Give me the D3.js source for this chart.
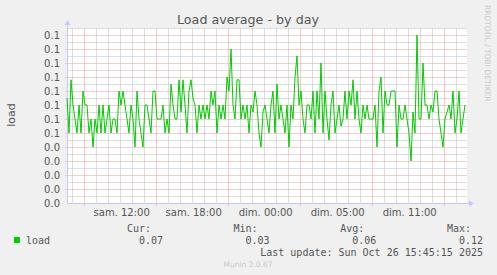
<!DOCTYPE html>
<html>
<head>
<meta charset="utf-8">
<script src="https://cdn.jsdelivr.net/npm/d3@7"></script>
<style>
  body { margin: 0; background: #f0f0f0; }
  svg { display: block; }
  text { font-family: 'DejaVu Sans', sans-serif; fill: #555; }
  .mono { font-family: 'DejaVu Sans Mono', monospace; font-size: 10px; }
</style>
</head>
<body>
<svg id="chart" width="497" height="275"></svg>
<script>
// load average, one value every 10 minutes
const load = [
  0.075, 0.05, 0.088, 0.07, 0.06, 0.05, 0.07, 0.05, 0.08, 0.07,
  0.07, 0.05, 0.06, 0.04, 0.06, 0.05, 0.07, 0.05, 0.07, 0.05,
  0.06, 0.07, 0.05, 0.06, 0.06, 0.05, 0.08, 0.07, 0.08, 0.07,
  0.06, 0.05, 0.07, 0.06, 0.04, 0.08, 0.06, 0.05, 0.04, 0.07,
  0.07, 0.06, 0.05, 0.08, 0.08, 0.06, 0.06, 0.06, 0.07, 0.05,
  0.06, 0.05, 0.085, 0.07, 0.06, 0.06, 0.088, 0.065, 0.088, 0.07,
  0.05, 0.08, 0.088, 0.075, 0.07, 0.05, 0.07, 0.06, 0.07, 0.06,
  0.07, 0.06, 0.08, 0.07, 0.08, 0.05, 0.07, 0.06, 0.07, 0.06,
  0.09, 0.08, 0.11, 0.07, 0.06, 0.088, 0.088, 0.06, 0.07, 0.06,
  0.07, 0.05, 0.07, 0.065, 0.08, 0.07, 0.05, 0.04, 0.065, 0.07,
  0.06, 0.05, 0.07, 0.08, 0.05, 0.085, 0.06, 0.07, 0.06, 0.05,
  0.07, 0.04, 0.07, 0.06, 0.09, 0.105, 0.07, 0.08, 0.06, 0.05,
  0.07, 0.07, 0.06, 0.08, 0.05, 0.08, 0.06, 0.10, 0.05, 0.08,
  0.06, 0.045, 0.07, 0.08, 0.05, 0.06, 0.07, 0.055, 0.06, 0.08,
  0.06, 0.08, 0.07, 0.088, 0.06, 0.08, 0.06, 0.05, 0.07, 0.06,
  0.07, 0.06, 0.06, 0.06, 0.07, 0.04, 0.08, 0.09, 0.05, 0.08,
  0.07, 0.07, 0.08, 0.08, 0.08, 0.04, 0.07, 0.06, 0.06, 0.07,
  0.06, 0.05, 0.03, 0.065, 0.05, 0.12, 0.06, 0.06, 0.10, 0.07,
  0.07, 0.06, 0.07, 0.065, 0.08, 0.08, 0.06, 0.05, 0.04, 0.06,
  0.065, 0.07, 0.06, 0.08, 0.05, 0.06, 0.08, 0.05, 0.06, 0.07,
];

const yTicks = d3.range(0, 13).map(i => i / 100);
const xLabels = ['sam. 12:00', 'sam. 18:00', 'dim. 00:00', 'dim. 05:00', 'dim. 11:00'];
const legendHeads = ['Cur:', 'Min:', 'Avg:', 'Max:'];
const legendValues = ['0.07', '0.03', '0.06', '0.12'];
const seriesName = 'load';
const lastUpdate = 'Last update: Sun Oct 26 15:45:15 2025';

const svg = d3.select('#chart');
const plotLeft = 67;
const plotTop = 28;
const plotWidth = 400;
const plotHeight = 175;
const hoursShown = plotWidth / 12;   // 12 px per hour
const firstHour = 5 / 12;            // first whole hour after the graph start
const green = '#00cc00';

const x = d3.scaleLinear()
  .domain([0, hoursShown])
  .range([plotLeft, plotLeft + plotWidth]);
const y = d3.scaleLinear()
  .domain([0, 0.125])
  .range([plotTop + plotHeight, plotTop]);

// plot background
svg.append('rect')
  .attr('x', plotLeft)
  .attr('y', plotTop)
  .attr('width', plotWidth)
  .attr('height', plotHeight)
  .attr('fill', '#fff');

const grid = svg.append('g').attr('transform', 'translate(0.5,0.5)');

const hours = d3.range(firstHour, hoursShown, 1);
const minorHours = hours.filter((h, i) => (i - 1) % 6 !== 0);
const majorHours = hours.filter((h, i) => (i - 1) % 6 === 0);

grid.selectAll('.vminor')
  .data(minorHours)
  .join('line')
  .attr('x1', d => Math.round(x(d)))
  .attr('x2', d => Math.round(x(d)))
  .attr('y1', plotTop)
  .attr('y2', plotTop + plotHeight + 1)
  .attr('stroke', '#bdbdbd')
  .attr('stroke-dasharray', '1,1');

grid.selectAll('.hminor')
  .data(yTicks.map(d => d + 0.005))
  .join('line')
  .attr('x1', plotLeft)
  .attr('x2', plotLeft + plotWidth)
  .attr('y1', d => Math.round(y(d)))
  .attr('y2', d => Math.round(y(d)))
  .attr('stroke', '#bdbdbd')
  .attr('stroke-dasharray', '1,1');

grid.selectAll('.vmajor')
  .data(majorHours)
  .join('line')
  .attr('x1', d => Math.round(x(d)))
  .attr('x2', d => Math.round(x(d)))
  .attr('y1', plotTop)
  .attr('y2', plotTop + plotHeight + 3)
  .attr('stroke', '#ec9a9a')
  .attr('stroke-dasharray', '1,1');

grid.selectAll('.hmajor')
  .data(yTicks.slice(1))
  .join('line')
  .attr('x1', plotLeft - 2)
  .attr('x2', plotLeft + plotWidth)
  .attr('y1', d => Math.round(y(d)))
  .attr('y2', d => Math.round(y(d)))
  .attr('stroke', '#ec9a9a')
  .attr('stroke-dasharray', '1,1');

// y tick labels
const yAxis = svg.append('g')
  .attr('transform', `translate(${plotLeft},0)`)
  .call(d3.axisLeft(y).tickValues(yTicks).tickFormat(d3.format('.1f')).tickSize(0).tickPadding(7));
yAxis.select('.domain').remove();
yAxis.selectAll('text')
  .attr('fill', '#555')
  .attr('font-size', 10)
  .attr('font-family', 'DejaVu Sans, sans-serif');

// x tick labels, centred between the major lines
const xAxis = svg.append('g')
  .attr('transform', `translate(0,${plotTop + plotHeight})`)
  .call(d3.axisBottom(x)
    .tickValues(majorHours.slice(0, xLabels.length).map(h => h + 3.1))
    .tickFormat((d, i) => xLabels[i])
    .tickSize(0)
    .tickPadding(6));
xAxis.select('.domain').remove();
xAxis.selectAll('text')
  .attr('fill', '#555')
  .attr('font-size', 10)
  .attr('font-family', 'DejaVu Sans, sans-serif');

// data line
const line = d3.line()
  .x((d, i) => x(i / 6))
  .y(d => y(d));

svg.append('path')
  .datum(load)
  .attr('d', line)
  .attr('fill', 'none')
  .attr('stroke', green)
  .attr('stroke-width', 1);

// axes with arrows
const axisColor = '#c4c8f4';
grid.append('line')
  .attr('x1', plotLeft).attr('x2', plotLeft)
  .attr('y1', plotTop + plotHeight).attr('y2', plotTop - 4)
  .attr('stroke', axisColor);
grid.append('line')
  .attr('x1', plotLeft).attr('x2', plotLeft + plotWidth + 4)
  .attr('y1', plotTop + plotHeight).attr('y2', plotTop + plotHeight)
  .attr('stroke', axisColor);
svg.append('path')
  .attr('d', `M${plotLeft - 2.5},${plotTop - 3}L${plotLeft + 3.5},${plotTop - 3}L${plotLeft + 0.5},${plotTop - 8}Z`)
  .attr('fill', axisColor);
svg.append('path')
  .attr('d', `M${plotLeft + plotWidth + 2},${plotTop + plotHeight - 2.5}L${plotLeft + plotWidth + 2},${plotTop + plotHeight + 3.5}L${plotLeft + plotWidth + 7},${plotTop + plotHeight + 0.5}Z`)
  .attr('fill', axisColor);

// title and side texts
svg.append('text')
  .attr('x', 248)
  .attr('y', 24)
  .attr('text-anchor', 'middle')
  .attr('font-size', 12.7)
  .text('Load average - by day');

svg.append('text')
  .attr('transform', 'translate(15,115) rotate(-90)')
  .attr('text-anchor', 'middle')
  .attr('font-size', 11)
  .text(seriesName);

svg.append('text')
  .attr('transform', 'translate(485,5) rotate(90)')
  .attr('font-size', 7.5)
  .style('fill', '#c8c8c8')
  .text('RRDTOOL / TOBI OETIKER');

// legend
svg.append('rect')
  .attr('x', 14)
  .attr('y', 237)
  .attr('width', 6)
  .attr('height', 6)
  .attr('fill', green);

svg.append('text')
  .attr('class', 'mono')
  .attr('x', 26)
  .attr('y', 244)
  .text(seriesName);

const colRight = d3.scaleLinear().domain([0, 3]).range([163, 483]);

svg.selectAll('.lhead')
  .data(legendHeads)
  .join('text')
  .attr('class', 'mono')
  .attr('x', (d, i) => colRight(i) - 12)
  .attr('y', 232)
  .attr('text-anchor', 'end')
  .text(d => d);

svg.selectAll('.lval')
  .data(legendValues)
  .join('text')
  .attr('class', 'mono')
  .attr('x', (d, i) => colRight(i))
  .attr('y', 244)
  .attr('text-anchor', 'end')
  .text(d => d);

svg.append('text')
  .attr('class', 'mono')
  .attr('x', 483)
  .attr('y', 256)
  .attr('text-anchor', 'end')
  .text(lastUpdate);

svg.append('text')
  .attr('x', 248)
  .attr('y', 267)
  .attr('text-anchor', 'middle')
  .attr('font-size', 7.5)
  .style('fill', '#c8c8c8')
  .text('Munin 2.0.67');
</script>
</body>
</html>
